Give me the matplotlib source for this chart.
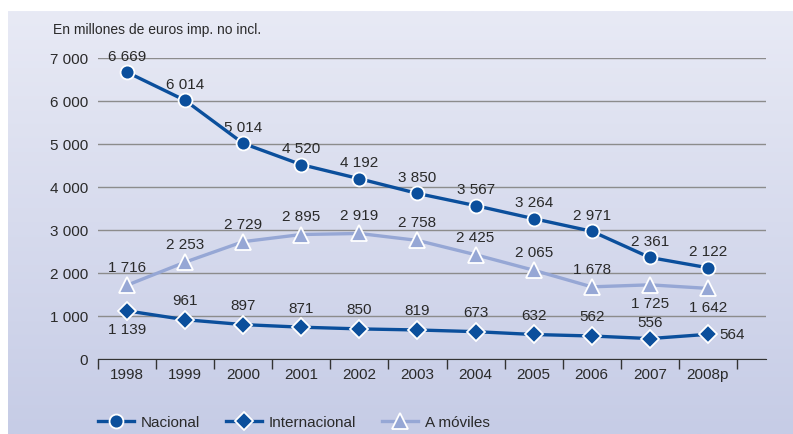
import matplotlib.pyplot as plt
import numpy as np

years = ['1998', '1999', '2000', '2001', '2002', '2003', '2004', '2005', '2006', '2007', '2008p']
nacional = [6669, 6014, 5014, 4520, 4192, 3850, 3567, 3264, 2971, 2361, 2122]
moviles = [1716, 2253, 2729, 2895, 2919, 2758, 2425, 2065, 1678, 1725, 1642]
# Internacional: marker heights as drawn in the source, and the printed labels
internacional = [1120, 914, 800, 740, 700, 675, 636, 570, 535, 475, 574]
internacional_lbl = [1139, 961, 897, 871, 850, 819, 673, 632, 562, 556, 564]


def fmt(v):
    return '{:,}'.format(v).replace(',', ' ')


plt.rcParams['font.family'] = ['Liberation Sans', 'DejaVu Sans']

dark = '#0b4f9c'
light = '#96a7d5'
txt = '#2a2a2a'

fig = plt.figure(figsize=(7.93, 4.35), dpi=100)

# gradient panel behind everything
bg = fig.add_axes([8 / 793, 0, 785 / 793, 1 - 12 / 435], zorder=-10)
grad = np.linspace(0, 1, 256)[:, None]
top = np.array([232, 234, 245]) / 255
bot = np.array([198, 204, 230]) / 255
img = top + (bot - top) * grad[:, :, None]
bg.imshow(img, aspect='auto', extent=[0, 1, 0, 1])
bg.axis('off')

ax = fig.add_axes([98 / 793, 1 - 360 / 435, 668 / 793, 301 / 435])
ax.patch.set_alpha(0)
x = np.arange(len(years))

ax.plot(x, nacional, color=dark, lw=2.4, marker='o', ms=10, mfc=dark,
        mec='white', mew=1.3, clip_on=False, zorder=5, label='Nacional')
ax.plot(x, internacional, color=dark, lw=2.4, marker='D', ms=9, mfc=dark,
        mec='white', mew=1.3, clip_on=False, zorder=5, label='Internacional')
ax.plot(x, moviles, color=light, lw=2.4, marker='^', ms=11, mfc=light,
        mec='white', mew=1.3, clip_on=False, zorder=4, label='A móviles')

fs = 11


def lab(s, xy, dx, dy, ha, va):
    ax.annotate(s, xy, xytext=(dx, dy), textcoords='offset points',
                ha=ha, va=va, fontsize=fs, color=txt)


for i, v in enumerate(nacional):
    lab(fmt(v), (i, v), 0, 7, 'center', 'bottom')
for i, v in enumerate(internacional):
    s = fmt(internacional_lbl[i])
    if i == 0:
        lab(s, (i, v), 0, -8, 'center', 'top')
    elif i == len(years) - 1:
        lab(s, (i, v), 8, 0, 'left', 'center')
    elif i == 9:
        lab(s, (i, v), 0, 7, 'center', 'bottom')
    else:
        lab(s, (i, v), 0, 9, 'center', 'bottom')
for i, v in enumerate(moviles):
    if i >= 9:
        lab(fmt(v), (i, v), 0, -8, 'center', 'top')
    else:
        lab(fmt(v), (i, v), 0, 8, 'center', 'bottom')

ax.set_xlim(-0.5, 11.0)
ax.set_ylim(0, 7000)
yt = np.arange(0, 7001, 1000)
ax.set_yticks(yt)
ax.set_yticklabels([fmt(v) for v in yt], fontsize=fs, color=txt)
ax.tick_params(axis='y', length=0, pad=7)
ax.grid(axis='y', color='#8c8c8c', lw=1)
ax.set_axisbelow(True)

ax.set_xticks(np.arange(-0.5, 11, 1))
ax.set_xticklabels([])
ax.set_xticks(x, minor=True)
ax.set_xticklabels(years, minor=True, fontsize=fs, color=txt)
ax.tick_params(axis='x', which='major', length=7, width=1, color='#333333')
ax.tick_params(axis='x', which='minor', length=0, pad=6)

for s in ['left', 'right', 'top']:
    ax.spines[s].set_visible(False)
ax.spines['bottom'].set_color('#333333')
ax.spines['bottom'].set_zorder(3)

fig.text(53 / 793, 1 - 30 / 435, 'En millones de euros imp. no incl.',
         fontsize=10, color=txt, va='center')

fig.legend(loc='center left', bbox_to_anchor=(84 / 793, 1 - 423 / 435), ncol=3,
           frameon=False, fontsize=fs, handlelength=2.35, columnspacing=1.7,
           handletextpad=0.45, labelcolor=txt)

plt.savefig('out.png', dpi=100)
